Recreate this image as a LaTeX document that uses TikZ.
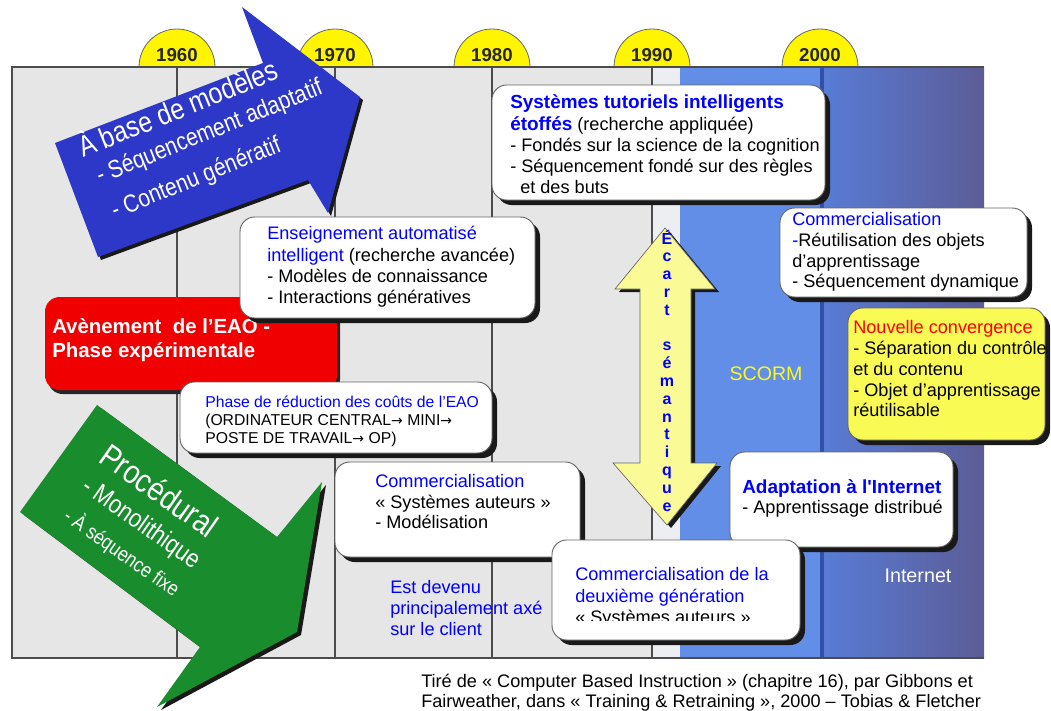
\documentclass[tikz,border=0pt]{standalone}
\usepackage{fontspec}
\setmainfont{Liberation Sans}
\newfontfamily\narrowsf[FakeStretch=0.85]{Liberation Sans}
\newfontfamily\arrowfont{DejaVu Sans}
\definecolor{panelgrey}{RGB}{230,230,230}
\definecolor{stripgrey}{RGB}{236,238,242}
\definecolor{blueA}{RGB}{98,142,232}
\definecolor{blueB1}{RGB}{88,124,214}
\definecolor{blueB2}{RGB}{92,92,150}
\definecolor{lineblue}{RGB}{50,80,170}
\definecolor{arrowblue}{RGB}{45,55,200}
\definecolor{arrowgreen}{RGB}{25,140,45}
\definecolor{boxred}{RGB}{240,0,0}
\definecolor{txtblue}{RGB}{0,0,255}
\definecolor{txtred}{RGB}{255,0,0}
\definecolor{yearyellow}{RGB}{255,245,0}
\definecolor{paleyellow}{RGB}{250,250,150}
\definecolor{boxyellow}{RGB}{250,250,85}
\definecolor{scormyellow}{RGB}{250,250,30}
\newcommand\shbox[6]{%
  \fill[black!90, rounded corners=11pt, shift={(5,5)}] (#1,#2) rectangle (#3,#4);
  \filldraw[fill=#5, draw=#6, line width=0.7pt, rounded corners=11pt] (#1,#2) rectangle (#3,#4);}
\newcommand\ar{{\arrowfont\fontsize{10.5}{12}\selectfont →}}
% one line of a stacked text block: zero height, so the kerns fix the baselines
\newcommand\stline[2]{\hbox{\hspace*{#1}\smash{#2}}}
\newcommand\cletter[1]{\hbox to 0pt{\hss\smash{#1}\hss}}
\begin{document}
\begin{tikzpicture}[x=0.75pt,y=-0.75pt,
  txt/.style={anchor=base west, inner sep=0pt, font=\fontsize{13.6}{16}\selectfont},
  btxt/.style={txt, text=txtblue},
  yeartxt/.style={anchor=base, inner sep=0pt, font=\bfseries\fontsize{14}{14}\selectfont, text=black!85},
  arrtxt/.style={anchor=base west, inner sep=0pt, text=white},
  gridline/.style={black!70, line width=1.2pt}]
\useasboundingbox (0,0) rectangle (1051,711);
\fill[white] (0,0) rectangle (1051,711);

% year circles
\foreach \xx/\yy in {177/1960,335/1970,492/1980,652/1990,820/2000}{
  \filldraw[fill=yearyellow, draw=black!60, line width=0.6pt] (\xx-38,67) arc[start angle=180, end angle=360, radius=38] -- cycle;
  \node[yeartxt] (y\yy) at (\xx,61) {\yy};
}

% panel
\fill[panelgrey] (12,67) rectangle (652,658);
\fill[stripgrey] (652,67) rectangle (680,658);
\fill[blueA] (680,67) rectangle (822,658);
\shade[left color=blueB1, right color=blueB2] (822,67) rectangle (984,658);
\draw[lineblue, line width=3pt] (822,67) -- (822,658);
\foreach \xx in {177,335,492,652} \draw[gridline] (\xx,67) -- (\xx,658);
\draw[gridline] (984,67) -- (12,67) -- (12,658) -- (984,658);

% blue arrow
\fill[black!90, shift={(3,3)}] (55,143) -- (263,63) -- (242,7) -- (360,97) -- (328,213) -- (308,180) -- (98,257) -- cycle;
\fill[arrowblue] (55,143) -- (263,63) -- (242,7) -- (360,97) -- (328,213) -- (308,180) -- (98,257) -- cycle;
\node[arrtxt, rotate=22, font=\narrowsf] (bluetext) at (83,158) {\vtop{\offinterlineskip
  \stline{0pt}{\fontsize{21.9}{22}\selectfont À base de modèles}\kern22.9pt
  \stline{4.5pt}{\fontsize{18.6}{19}\selectfont - Séquencement adaptatif}\kern28.5pt
  \stline{5.1pt}{\fontsize{18.6}{19}\selectfont - Contenu génératif}}};

% green arrow
\fill[black!90, shift={(4,3)}] (97,405) -- (277,537) -- (322,482) -- (297,632) -- (157,707) -- (200,647) -- (20,512) -- cycle;
\fill[arrowgreen] (97,405) -- (277,537) -- (322,482) -- (297,632) -- (157,707) -- (200,647) -- (20,512) -- cycle;
\node[arrtxt, rotate=-35, font=\narrowsf] (greentext) at (97,461) {\vtop{\offinterlineskip
  \stline{0pt}{\fontsize{24.7}{25}\selectfont Procédural}\kern25.2pt
  \stline{2pt}{\fontsize{19.4}{20}\selectfont - Monolithique}\kern25.8pt
  \stline{3.6pt}{\fontsize{15.5}{16}\selectfont - À séquence fixe}}};

% box A
\shbox{492}{85}{825}{200}{white}{black!60}
\node[txt] (a1) at (510,108) {\textcolor{txtblue}{\bfseries\fontsize{14.2}{16}\selectfont Systèmes tutoriels intelligents}};
\node[txt] (a2) at (510,130) {\textcolor{txtblue}{\bfseries\fontsize{14.2}{16}\selectfont étoffés} (recherche appliquée)};
\node[txt] (a3) at (510,151) {- Fondés sur la science de la cognition};
\node[txt] (a4) at (510,172) {- Séquencement fondé sur des règles};
\node[txt] (a5) at (520,193) {et des buts};

% commercialisation right
\shbox{780}{208}{1027}{297}{white}{black!60}
\node[btxt] (r1) at (792,225) {Commercialisation};
\node[txt] (r2) at (792,246) {\textcolor{txtblue}{-}Réutilisation des objets};
\node[txt] (r3) at (792,267) {d’apprentissage};
\node[txt] (r4) at (792,287) {- Séquencement dynamique};

% nouvelle convergence
\shbox{848}{308}{1045}{440}{boxyellow}{black!60}
\node[txt, text=txtred] (n1) at (853,333) {Nouvelle convergence};
\node[txt] (n2) at (853,354) {- Séparation du contrôle};
\node[txt] (n3) at (853,375) {et du contenu};
\node[txt] (n4) at (853,396) {- Objet d’apprentissage};
\node[txt] (n5) at (853,416) {réutilisable};

% red box
\fill[black!85, rounded corners=11pt, shift={(3,4)}] (45,297) rectangle (337,390);
\fill[boxred, rounded corners=11pt] (45,297) rectangle (337,390);
\node[txt, text=white, font=\bfseries\fontsize{15.3}{17}\selectfont] (red1) at (52,333) {Avènement\ \ de l’EAO -};
\node[txt, text=white, font=\bfseries\fontsize{15.3}{17}\selectfont] (red2) at (52,357) {Phase expérimentale};

% enseignement box
\shbox{240}{217}{535}{318}{white}{black!60}
\node[btxt] (e1) at (267,239) {Enseignement automatisé};
\node[txt] (e2) at (267,261) {\textcolor{txtblue}{intelligent} (recherche avancée)};
\node[txt] (e3) at (267,282) {- Modèles de connaissance};
\node[txt] (e4) at (267,303) {- Interactions génératives};

% phase box
\shbox{180}{382}{492}{453}{white}{black!60}
\node[btxt, font=\fontsize{11.8}{13}\selectfont] (p1) at (205,407) {Phase de réduction des coûts de l’EAO};
\node[txt, font=\fontsize{11.8}{13}\selectfont] (p2) at (205,425) {(ORDINATEUR CENTRAL\ar\ MINI\ar};
\node[txt, font=\fontsize{11.8}{13}\selectfont] (p3) at (205,443) {POSTE DE TRAVAIL\ar\ OP)};

% commercialisation middle
\shbox{335}{462}{580}{557}{white}{black!60}
\node[btxt] (m1) at (375,487) {Commercialisation};
\node[txt] (m2) at (375,508) {« Systèmes auteurs »};
\node[txt] (m3) at (375,528) {- Modélisation};

% est devenu
\node[btxt] (d1) at (390,593) {Est devenu};
\node[btxt] (d2) at (390,614) {principalement axé};
\node[btxt] (d3) at (390,635) {sur le client};

% adaptation
\shbox{730}{452}{953}{547}{white}{black!60}
\node[txt, text=txtblue, font=\bfseries\fontsize{14.2}{16}\selectfont] (ad1) at (742,493) {Adaptation à l\textquotesingle Internet};
\node[txt] (ad2) at (742,513) {- Apprentissage distribué};

% commercialisation 2e generation
\shbox{552}{540}{800}{640}{white}{black!60}
\node[btxt] (c1) at (575,580) {Commercialisation de la};
\node[btxt] (c2) at (575,602) {deuxième génération};
\begin{scope}
  \clip (552,540) rectangle (800,620);
  \node[txt] (c3) at (575,623) {« Systèmes auteurs »};
\end{scope}

% ecart semantique double arrow
\fill[black!90, shift={(4,3)}] (665,228) -- (715,289) -- (691,289) -- (691,463) -- (717,463) -- (667,525) -- (613,463) -- (640,463) -- (640,289) -- (615,289) -- cycle;
\filldraw[fill=paleyellow, draw=black!60, line width=0.5pt] (665,228) -- (715,289) -- (691,289) -- (691,463) -- (717,463) -- (667,525) -- (613,463) -- (640,463) -- (640,289) -- (615,289) -- cycle;
\node[anchor=base, inner sep=0pt, text=txtblue, font=\bfseries\fontsize{12}{13}\selectfont] (ecart) at (667,244) {\vtop{\offinterlineskip
  \cletter{É}\kern13.35pt \cletter{c}\kern13.35pt \cletter{a}\kern13.35pt \cletter{r}\kern13.35pt
  \cletter{t}\kern26.7pt \cletter{s}\kern13.35pt \cletter{é}\kern13.35pt \cletter{m}\kern13.35pt
  \cletter{a}\kern13.35pt \cletter{n}\kern13.35pt \cletter{t}\kern13.35pt \cletter{i}\kern13.35pt
  \cletter{q}\kern13.35pt \cletter{u}\kern13.35pt \cletter{e}}};

% labels on blue
\node[anchor=base, inner sep=0pt, text=scormyellow, font=\fontsize{14.7}{16}\selectfont] (scorm) at (766,380) {SCORM};
\node[anchor=base, inner sep=0pt, text=white, font=\fontsize{14.8}{16}\selectfont] (inet) at (918,582) {Internet};

% citation
\node[txt] (cit1) at (421,687) {Tiré de « Computer Based Instruction » (chapitre 16), par Gibbons et};
\node[txt] (cit2) at (421,707) {Fairweather, dans « Training \& Retraining », 2000 – Tobias \& Fletcher};
\end{tikzpicture}
\end{document}
